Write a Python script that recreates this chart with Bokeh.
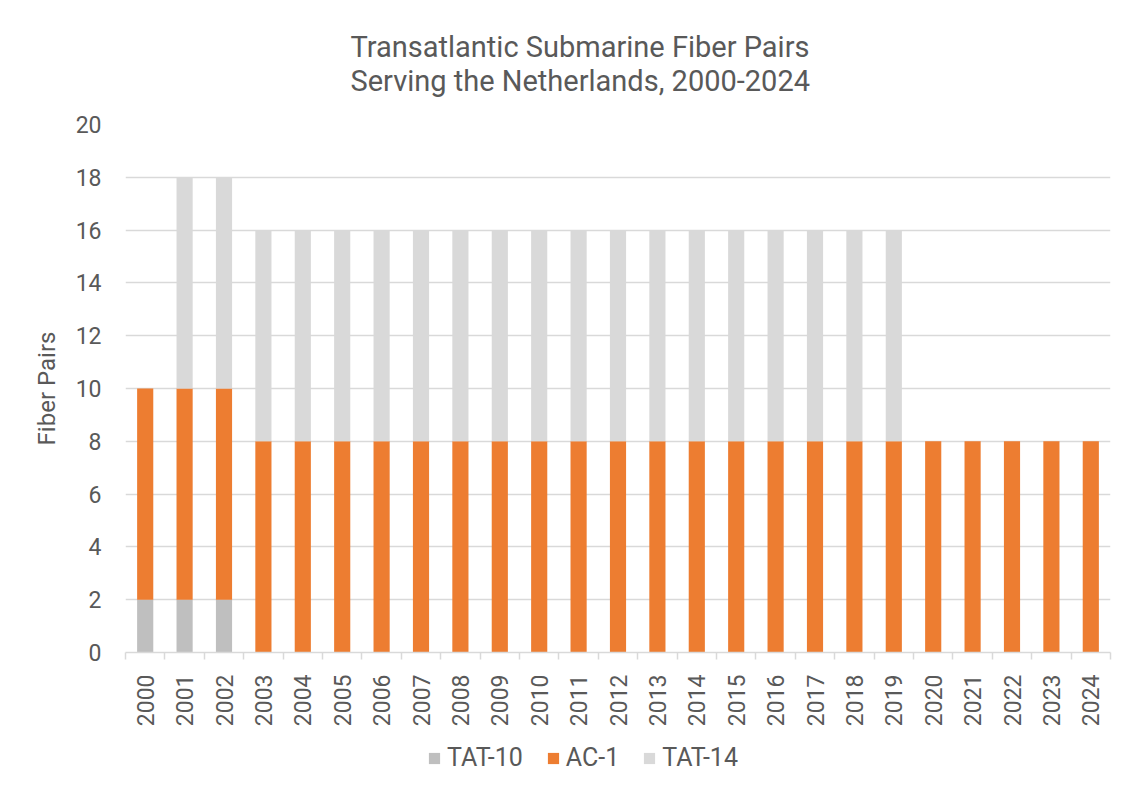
from bokeh.plotting import figure
from bokeh.models import ColumnDataSource, Range1d, FixedTicker, Legend, LegendItem
from bokeh.layouts import column
from bokeh.embed import file_html
from bokeh.resources import INLINE
import math

years = ["2000", "2001", "2002", "2003", "2004", "2005", "2006", "2007", "2008",
         "2009", "2010", "2011", "2012", "2013", "2014", "2015", "2016", "2017",
         "2018", "2019", "2020", "2021", "2022", "2023", "2024"]
tat10 = [2, 2, 2, 0, 0, 0, 0, 0, 0, 0, 0, 0, 0, 0, 0, 0, 0, 0, 0, 0, 0, 0, 0, 0, 0]
ac1 = [8, 8, 8, 8, 8, 8, 8, 8, 8, 8, 8, 8, 8, 8, 8, 8, 8, 8, 8, 8, 8, 8, 8, 8, 8]
tat14 = [0, 8, 8, 8, 8, 8, 8, 8, 8, 8, 8, 8, 8, 8, 8, 8, 8, 8, 8, 8, 0, 0, 0, 0, 0]
series_names = ["TAT-10", "AC-1", "TAT-14"]
series_colors = ["#BFBFBF", "#ED7D31", "#D9D9D9"]
y_ticks = [0, 2, 4, 6, 8, 10, 12, 14, 16, 18, 20]
title_lines = ["Transatlantic Submarine Fiber Pairs", "Serving the Netherlands, 2000-2024"]
y_label = "Fiber Pairs"

TEXT = "#595959"
FONT = "Roboto"

centers = [i + 0.5 for i in range(len(years))]
bounds = [float(i) for i in range(len(years) + 1)]
source = ColumnDataSource(dict(x=centers, **{"TAT-10": tat10, "AC-1": ac1, "TAT-14": tat14}))

p = figure(width=1124, height=735,
           x_range=Range1d(0, len(years)), y_range=Range1d(0, 20),
           output_backend="svg", toolbar_location=None,
           min_border_left=125, min_border_right=14,
           min_border_top=124, min_border_bottom=83)
p.outline_line_color = None

p.title.text = "\n".join(title_lines)
p.title.align = "left"
p.title.offset = 225
p.title.text_font = FONT
p.title.text_font_size = "29px"
p.title.text_font_style = "normal"
p.title.text_color = TEXT
p.title.text_line_height = 1.0
p.title.standoff = 53

renderers = p.vbar_stack(series_names, x="x", width=0.41, color=series_colors,
                         line_color=None, source=source)

# x axis
xa = p.xaxis[0]
xa.ticker = FixedTicker(ticks=centers, minor_ticks=bounds)
xa.major_label_overrides = {c: y for c, y in zip(centers, years)}
xa.major_label_orientation = math.pi / 2
xa.major_tick_line_color = None
xa.major_tick_out = 0
xa.major_tick_in = 0
xa.minor_tick_line_color = "#D9D9D9"
xa.minor_tick_line_width = 1.5
xa.minor_tick_out = 7
xa.minor_tick_in = 0
xa.axis_line_color = "#D9D9D9"
xa.axis_line_width = 1.5
xa.major_label_standoff = 15
xa.major_label_text_font = FONT
xa.major_label_text_font_size = "23px"
xa.major_label_text_color = TEXT

# y axis
ya = p.yaxis[0]
ya.ticker = FixedTicker(ticks=y_ticks)
ya.axis_line_color = None
ya.major_tick_line_color = None
ya.minor_tick_line_color = None
ya.major_tick_out = 0
ya.major_label_standoff = 24
ya.major_label_text_font = FONT
ya.major_label_text_font_size = "23px"
ya.major_label_text_color = TEXT
ya.axis_label = y_label
ya.axis_label_text_font = FONT
ya.axis_label_text_font_size = "24px"
ya.axis_label_text_font_style = "normal"
ya.axis_label_text_color = TEXT
ya.axis_label_standoff = 12

p.xgrid.grid_line_color = None
p.ygrid.ticker = FixedTicker(ticks=y_ticks)
p.ygrid.grid_line_color = "#D9D9D9"
p.ygrid.grid_line_width = 1.5

# legend strip below the chart (same bars, kept out of view, supply the swatches)
lf = figure(width=1124, height=42, x_range=Range1d(0, 1), y_range=Range1d(100, 101),
            output_backend="svg", toolbar_location=None,
            x_axis_location=None, y_axis_location=None, min_border=0)
lf.outline_line_color = None
lf.grid.visible = False
lrs = lf.vbar_stack(series_names, x="x", width=0.41, color=series_colors,
                    line_color=None, source=source)

legend = Legend(items=[LegendItem(label=n, renderers=[r]) for n, r in zip(series_names, lrs)],
                location=(302, 5), orientation="horizontal",
                glyph_width=14, glyph_height=14, label_standoff=6, spacing=23,
                label_text_font=FONT, label_text_font_size="25px", label_text_color=TEXT,
                border_line_color=None, background_fill_alpha=0, padding=0, margin=0)
lf.add_layout(legend, "center")

layout = column(p, lf, spacing=0)
open("out.html", "w").write(file_html(layout, INLINE))
